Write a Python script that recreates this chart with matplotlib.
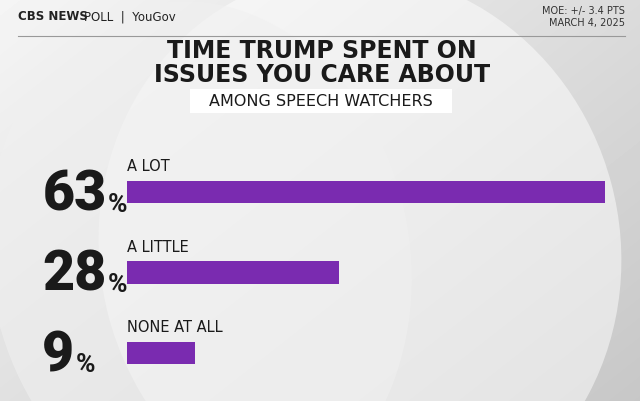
import numpy as np
import matplotlib.pyplot as plt
from matplotlib.patches import Ellipse, Rectangle

categories = ['A LOT', 'A LITTLE', 'NONE AT ALL']
values = [63, 28, 9]
pct_labels = ['63', '28', '9']

W, H = 640, 401
fig = plt.figure(figsize=(6.4, 4.01), dpi=100)

# background in pixel coords
bg = fig.add_axes([0, 0, 1, 1])
bg.set_xlim(0, W)
bg.set_ylim(H, 0)
bg.axis('off')
yy, xx = np.mgrid[0:H, 0:W]
grad = 0.78 + 0.10 * (1 - xx / W) + 0.08 * (1 - yy / H)
bg.imshow(grad, cmap='gray', vmin=0, vmax=1, extent=[0, W, H, 0], aspect='auto')
bg.add_patch(Ellipse((360, 250), 520, 560, angle=-15, color='white', alpha=0.5, lw=0))
bg.add_patch(Ellipse((200, 260), 420, 520, angle=-10, color='#f0f0f0', alpha=0.6, lw=0))

bg.text(18, 17, 'CBS NEWS', fontsize=8.5, fontweight='bold', color='#222', va='center')
bg.text(84, 17, 'POLL  |  YouGov', fontsize=8.5, color='#222', va='center')
bg.text(625, 11, 'MOE: +/- 3.4 PTS', fontsize=7, color='#333', ha='right', va='center')
bg.text(625, 23, 'MARCH 4, 2025', fontsize=7, color='#333', ha='right', va='center')
bg.plot([18, 625], [36, 36], color='#999', lw=0.8)
bg.text(322, 63, 'TIME TRUMP SPENT ON\nISSUES YOU CARE ABOUT', fontsize=17, fontweight='heavy',
        color='#1a1a1a', ha='center', va='center', linespacing=0.95)
bg.add_patch(Rectangle((190, 89), 262, 24, color='white', lw=0))
bg.text(321, 101, 'AMONG SPEECH WATCHERS', fontsize=11.5, color='#1a1a1a', ha='center', va='center')

# bars
ax = fig.add_axes([127 / W, 1 - 393 / H, 478 / W, 241 / H])
ax.patch.set_alpha(0)
y = np.arange(len(values))
ax.barh(y, values, height=0.28, color='#7a2bb0')
ax.set_xlim(0, 63)
ax.set_ylim(2.5, -0.5)
ax.axis('off')
renderer = fig.canvas.get_renderer()
for i, (c, p) in enumerate(zip(categories, pct_labels)):
    ax.text(0, i - 0.22, c, fontsize=10.5, color='#1a1a1a', va='bottom', ha='left')
    num = ax.annotate(p, xy=(0, i), xycoords='data', xytext=(-61, -2), textcoords='offset points',
                      fontsize=40, fontweight='black', family='Roboto', color='#1a1a1a',
                      ha='left', va='center')
    width_pt = num.get_window_extent(renderer).width * 72 / fig.dpi
    ax.annotate('%', xy=(0, i), xycoords='data', xytext=(-61 + width_pt + 1, -9),
                textcoords='offset points', family='Roboto',
                fontsize=19, fontweight='bold', color='#1a1a1a', ha='left', va='center')

fig.savefig('out.png', dpi=100)
